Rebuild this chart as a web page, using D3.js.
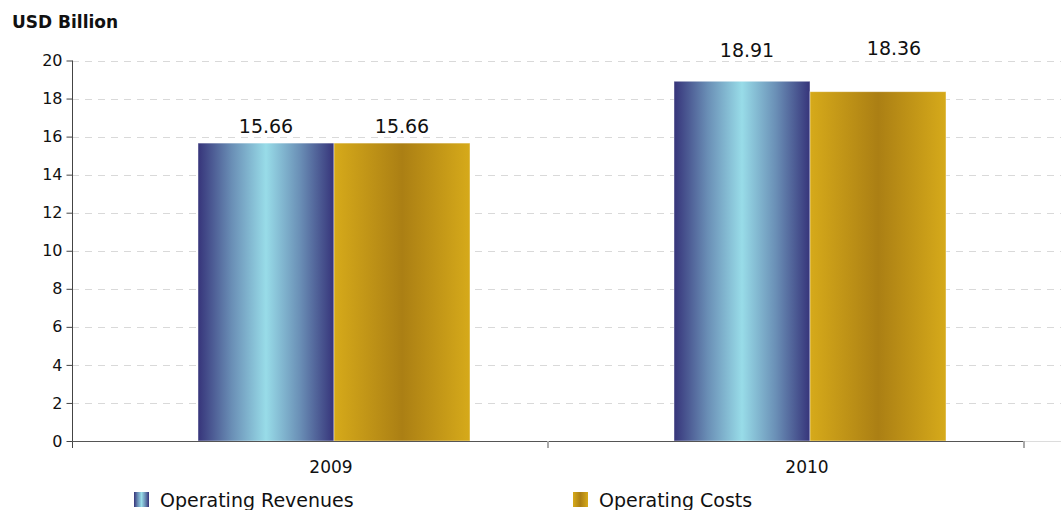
<!DOCTYPE html>
<html>
<head>
<meta charset="utf-8">
<script src="https://cdn.jsdelivr.net/npm/d3@7/dist/d3.min.js"></script>
<style>
  html, body { margin: 0; padding: 0; background: #fff; }
  svg { display: block; font-family: "DejaVu Sans", Lato, sans-serif; }
</style>
</head>
<body>
<svg id="chart" width="1061" height="510"></svg>
<script>
// ---- data ----
const categories = ["2009", "2010"];
const seriesNames = ["Operating Revenues", "Operating Costs"];
const revenues = [15.66, 18.91];
const costs = [15.66, 18.36];
const yTicks = [0, 2, 4, 6, 8, 10, 12, 14, 16, 18, 20];
const unitLabel = "USD Billion";

// ---- style ----
const W = 1061, H = 510;
const plotL = 72, plotR = 1024, plotT = 60.5, plotB = 441;
const groupShift = 24;      // bars sit right of band centre in the original
const barW = 136;
const labelNudge = [[[0, 10], [0, 10]], [[5, 24], [16, 37]]]; // [cat][series] -> [dx, dy above bar]

const svg = d3.select("#chart");
const defs = svg.append("defs");

function grad(id, stops) {
  const g = defs.append("linearGradient").attr("id", id)
    .attr("x1", "0%").attr("x2", "100%").attr("y1", "0%").attr("y2", "0%");
  stops.forEach(([o, c]) => g.append("stop").attr("offset", o).attr("stop-color", c));
}
grad("gRev", [["0%", "#36347a"], ["25%", "#6a8fb6"], ["50%", "#98dce8"], ["75%", "#6a8fb6"], ["100%", "#36347a"]]);
grad("gCost", [["0%", "#d6aa1a"], ["50%", "#ab7f14"], ["100%", "#d6aa1a"]]);
const fills = ["url(#gRev)", "url(#gCost)"];

const x = d3.scaleBand().domain(categories).range([plotL, plotR]).padding(0);
const xs = d3.scaleBand().domain(seriesNames).range([0, barW * 2]);
const y = d3.scaleLinear().domain([0, 20]).range([plotB, plotT]);

// gridlines
svg.append("g").selectAll("line").data(yTicks.filter(d => d > 0)).join("line")
  .attr("x1", plotL).attr("x2", W)
  .attr("y1", d => Math.round(y(d)) + 0.5).attr("y2", d => Math.round(y(d)) + 0.5)
  .attr("stroke", "#d9d9d9").attr("stroke-width", 1).attr("stroke-dasharray", "7,6");

// bars
const seriesData = [revenues, costs];
const groups = svg.append("g").selectAll("g").data(categories).join("g")
  .attr("transform", d => `translate(${x(d) + x.bandwidth() / 2 + groupShift - barW},0)`);
groups.selectAll("rect").data((c, i) => seriesNames.map((s, j) => ({ s, j, v: seriesData[j][i], ci: i })))
  .join("rect")
  .attr("x", d => xs(d.s)).attr("width", xs.bandwidth())
  .attr("y", d => y(d.v)).attr("height", d => y(0) - y(d.v))
  .attr("fill", d => fills[d.j])
  .attr("stroke", "rgba(255,255,255,0.55)").attr("stroke-width", 0.8);

groups.selectAll("text").data((c, i) => seriesNames.map((s, j) => ({ s, j, v: seriesData[j][i], ci: i })))
  .join("text")
  .attr("x", d => xs(d.s) + xs.bandwidth() / 2 + labelNudge[d.ci][d.j][0])
  .attr("y", d => y(d.v) - labelNudge[d.ci][d.j][1])
  .attr("text-anchor", "middle").attr("font-size", 19).attr("fill", "#111")
  .text(d => d.v.toFixed(2));

// y axis
const yAxis = d3.axisLeft(y).tickValues(yTicks).tickSize(6).tickPadding(4);
const gy = svg.append("g").attr("transform", `translate(${plotL + 0.5},0)`).call(yAxis);
gy.select(".domain").remove();
gy.selectAll(".tick line").attr("stroke", "#444");
gy.selectAll(".tick text").attr("font-size", 16).attr("fill", "#111").attr("font-family", "'DejaVu Sans', sans-serif");
svg.append("line").attr("x1", plotL + 0.5).attr("x2", plotL + 0.5).attr("y1", plotT).attr("y2", plotB + 7)
  .attr("stroke", "#444");

// x axis
svg.append("line").attr("x1", plotR).attr("x2", W).attr("y1", plotB + 0.5).attr("y2", plotB + 0.5)
  .attr("stroke", "#dcdcdc");
svg.append("line").attr("x1", plotL).attr("x2", plotR).attr("y1", plotB + 0.5).attr("y2", plotB + 0.5)
  .attr("stroke", "#555");
const bounds = categories.map(c => x(c)).concat([x(categories[categories.length - 1]) + x.bandwidth()]);
svg.append("g").selectAll("line").data(bounds.slice(1)).join("line")
  .attr("x1", d => d).attr("x2", d => d).attr("y1", plotB).attr("y2", plotB + 7)
  .attr("stroke", "#aaa").attr("stroke-width", 2);
svg.append("g").selectAll("text").data(categories).join("text")
  .attr("x", d => x(d) + x.bandwidth() / 2 + groupShift - 3)
  .attr("y", plotB + 32)
  .attr("text-anchor", "middle").attr("font-size", 17).attr("fill", "#111")
  .text(d => d);

// unit label
svg.append("text").attr("x", 12).attr("y", 28).attr("font-size", 17).attr("font-weight", 600)
  .attr("fill", "#111").text(unitLabel);

// legend
const legendX = [134, 573];
const lg = svg.append("g").selectAll("g").data(seriesNames).join("g")
  .attr("transform", (d, i) => `translate(${legendX[i]},492)`);
lg.append("rect").attr("width", 15).attr("height", 15).attr("fill", (d, i) => fills[i]);
lg.append("text").attr("x", 26).attr("y", 14.5).attr("font-size", 19).attr("fill", "#111").text(d => d);
</script>
</body>
</html>
